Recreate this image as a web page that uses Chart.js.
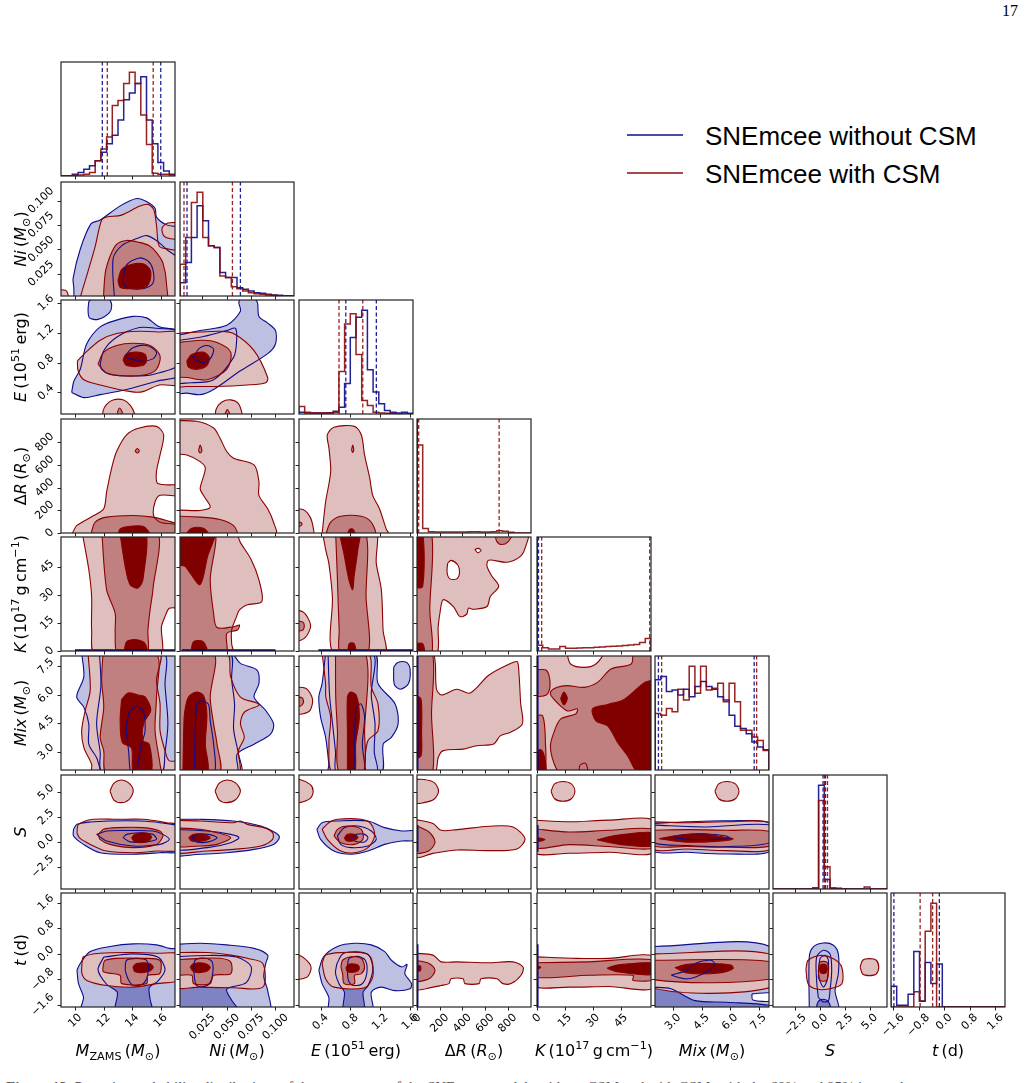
<!DOCTYPE html>
<html><head><meta charset="utf-8">
<script src="https://cdn.jsdelivr.net/npm/chart.js@4.4.1/dist/chart.umd.min.js"></script>
<style>
body{margin:0;background:#fff;width:1034px;height:1083px;overflow:hidden;position:relative;font-family:"DejaVu Sans",sans-serif;}
canvas{position:absolute;}
.xl{position:absolute;font-size:16px;white-space:nowrap;transform:translate(-50%,-50%);color:#000;}
.yl{position:absolute;font-size:16px;white-space:nowrap;transform:translate(-50%,-50%) rotate(-90deg);color:#000;}
sub,sup{font-size:70%;line-height:0;}
.leg{position:absolute;font-family:"Liberation Sans",Arial,sans-serif;font-size:26px;white-space:nowrap;}
.legline{position:absolute;height:0;width:56px;}
</style></head><body>
<div style="position:absolute;left:1002px;top:2px;font-family:'Liberation Serif',serif;font-size:16px;">17</div>
<div class="legline" style="left:627px;top:134px;border-top:2px solid #4a4aa8;"></div>
<div class="leg" style="left:705px;top:121px;">SNEmcee without CSM</div>
<div class="legline" style="left:627px;top:172px;border-top:2px solid #ad4646;"></div>
<div class="leg" style="left:705px;top:159px;">SNEmcee with CSM</div>
<div style="position:absolute;left:6px;top:1079px;font-family:'Liberation Serif',serif;font-size:15px;color:#555;white-space:nowrap;"><b>Figure 12.</b> Posterior probability distributions of the parameters of the SNEmcee models without CSM and with CSM, with the 68% and 95% intervals.</div>
<script>
// ---------- axes (parameters in order M, Ni, E, dR, K, Mix, S, t) ----------
const axisLo = [9.0, 0.002, 0.11, 0, 0, 2.05, -4.75, -1.66];
const axisHi = [17.0, 0.119, 1.64, 1005, 61, 8.05, 6.75, 1.9];
const ticksM = [10,12,14,16],            labelsM = ['10','12','14','16'];
const ticksNi = [0.025,0.05,0.075,0.1],  labelsNi = ['0.025','0.050','0.075','0.100'];
const ticksE = [0.4,0.8,1.2,1.6],        labelsE = ['0.4','0.8','1.2','1.6'];
const ticksDR = [0,200,400,600,800],     labelsDR = ['0','200','400','600','800'];
const ticksK = [0,15,30,45],             labelsK = ['0','15','30','45'];
const ticksMix = [3,4.5,6,7.5],          labelsMix = ['3.0','4.5','6.0','7.5'];
const ticksS = [-2.5,0,2.5,5],           labelsS = ['\u22122.5','0.0','2.5','5.0'];
const ticksT = [-1.6,-0.8,0,0.8,1.6],    labelsT = ['\u22121.6','\u22120.8','0.0','0.8','1.6'];

// ---------- 1D histograms (20 bins over the axis range) ----------
const hM_b  = [0,1,5,10,20,30,45,70,95,120,165,225,245,273,293,165,95,40,15,5];
const hM_r  = [1,1,2,3,5,10,45,80,115,208,223,273,306,273,180,93,8,5,5,3];
const hNi_b = [40,100,175,270,225,150,145,70,55,55,25,20,15,10,8,5,3,2,1,1];
const hNi_r = [95,175,280,310,175,150,145,60,55,28,22,15,10,7,5,3,2,1,1,0];
const hE_b  = [5,3,3,3,3,4,8,20,90,225,285,305,130,65,30,10,5,3,5,2];
const hE_r  = [22,5,3,3,3,3,5,125,265,295,175,40,25,5,3,2,2,1,0,0];
const hDR_r = [261,13,4,3,3,3,3,3,3,4,4,3,3,4,7,5,2,0,0,0];
const hK_r  = [17,10,6,6,13,8,8,9,10,10,11,12,13,14,15,16,18,19,25,37];
const hMix_b = [268,278,233,238,223,240,218,248,263,248,240,218,208,163,130,123,108,83,68,60];
const hMix_r = [168,163,183,173,240,208,308,228,308,238,243,258,203,258,203,118,118,98,88,58];
const hS_b  = [0,0,0,0,0,0,0,3,308,28,3,2,0,0,0,0,0,0,0,0];
const hS_r  = [0,0,0,0,0,0,0,3,263,66,2,0,0,0,0,0,6,0,0,0];
const hT_b  = [62,5,5,38,165,18,132,70,128,0,0,0,0,0,0,0,0,0,0,0];
const hT_r  = [0,0,0,0,45,17,225,308,0,0,0,0,0,0,0,0,0,0,0,0];
const histTop = [null,null,null,338,338,null,null,null];
const spikeBlue = [null,null,null,0,0,null,null,null];   // no-CSM run: delta at zero

// quantile lines
const qM_b = [11.9,16.0],     qM_r = [12.25,15.47];
const qNi_b = [0.0092,0.064], qNi_r = [0.0061,0.0558];
const qE_b = [0.738,1.148],   qE_r = [0.647,0.966];
const qDR_b = [1.5],          qDR_r = [15,724];
const qK_b = [0.8],           qK_r = [2.5,60.3];
const qMix_b = [2.23,7.27],   qMix_r = [2.4,7.4];
const qS_b = [0.3,0.55],      qS_r = [0.45,0.75];
const qT_b = [-1.57,-0.15],   qT_r = [-0.75,-0.36];

// ---------- 2D contours: [set, level, x1,y1, x2,y2, ...] ----------
// b = blue (without CSM) filled, B = blue contour line, r = red (with CSM), w/W = empty region, z = blue delta line
const c_Ni_M = [
 ['b',1, 9.9,-0.01, 9.9,0.01, 9.85,0.02, 10.35,0.05, 11.1,0.076, 11.75,0.08, 13.1,0.094, 14.3,0.102, 15.0,0.099, 15.6,0.092, 15.7,0.083, 16.4,0.075, 17.5,0.07, 17.5,-0.01],
 ['B',2, 12.8,-0.01, 12.65,0.04, 13.25,0.0535, 14.5,0.062, 15.0,0.064, 15.7,0.059, 16.4,0.05, 17.5,0.036, 17.5,-0.01],
 ['B',3, 13.35,0.018, 13.6,0.034, 14.5,0.041, 15.1,0.038, 15.45,0.029, 15.45,0.015, 14.75,0.0095, 13.6,0.011],
 ['r',1, 10.3,-0.01, 10.35,0.0, 10.85,0.025, 11.4,0.053, 11.85,0.08, 12.2,0.083, 13.25,0.085, 14.5,0.094, 15.1,0.096, 15.5,0.091, 15.7,0.075, 15.9,0.053, 16.6,0.05, 17.5,0.046, 17.5,-0.01],
 ['r',1, 17.5,0.077, 16.5,0.077, 16.1,0.072, 16.2,0.064, 16.6,0.061, 17.5,0.061],
 ['r',1, 8.5,0.008, 9.3,0.008, 9.5,0.003, 9.5,-0.01, 8.5,-0.01],
 ['r',2, 11.95,-0.01, 12.1,0.025, 12.45,0.043, 12.9,0.055, 13.6,0.059, 14.5,0.057, 15.2,0.0535, 15.7,0.0465, 16.15,0.036, 16.4,0.015, 16.3,-0.01],
 ['r',3, 13.0,0.018, 13.25,0.029, 13.85,0.034, 14.75,0.035, 15.25,0.029, 15.25,0.018, 14.9,0.011, 13.85,0.0095, 13.15,0.011]
];
const c_E_M = [
 ['b',1, 9.75,0.4, 9.9,0.55, 10.35,0.71, 10.8,1.05, 11.75,1.28, 12.9,1.37, 14.05,1.42, 15.0,1.4, 15.9,1.28, 17.5,1.2, 17.5,0.65, 15.7,0.55, 13.6,0.44, 11.75,0.37, 10.6,0.33],
 ['b',1, 10.95,1.62, 11.4,1.68, 12.3,1.67, 12.55,1.58, 12.4,1.47, 11.6,1.38, 11.0,1.4, 10.9,1.5],
 ['B',2, 11.75,0.78, 12.0,0.96, 12.9,1.14, 14.5,1.27, 15.7,1.26, 17.5,1.2, 17.5,0.8, 15.45,0.64, 14.05,0.62, 12.45,0.64, 11.85,0.71],
 ['B',3, 13.45,0.88, 14.05,1.0, 15.0,1.03, 15.7,0.94, 15.45,0.85, 14.5,0.82],
 ['r',1, 10.15,0.82, 10.7,0.93, 11.75,1.1, 12.9,1.19, 14.5,1.22, 15.9,1.21, 17.5,1.19, 17.5,0.52, 15.9,0.5, 14.75,0.41, 13.9,0.41, 11.75,0.5, 10.6,0.57, 10.2,0.69],
 ['r',1, 11.9,0.0, 11.95,0.15, 12.2,0.24, 12.7,0.3, 13.35,0.3, 13.85,0.23, 14.15,0.12, 14.2,0.0],
 ['r',2, 12.95,0.13, 13.1,0.19, 13.3,0.13, 13.1,0.07],
 ['r',2, 11.6,0.78, 12.0,0.94, 12.9,1.03, 14.05,1.06, 15.25,1.03, 15.95,0.89, 15.7,0.71, 15.0,0.64, 13.6,0.62, 12.2,0.66],
 ['r',3, 13.35,0.84, 13.6,0.92, 14.3,0.94, 14.9,0.91, 15.0,0.82, 14.75,0.76, 13.6,0.76]
];
const c_E_Ni = [
 ['b',1, -0.01,1.14, 0.0227,1.23, 0.05,1.3, 0.064,1.49, 0.0625,1.62, 0.071,1.7, 0.081,1.62, 0.083,1.42, 0.092,1.33, 0.1,1.23, 0.1,1.05, 0.092,0.92, 0.064,0.69, 0.0365,0.44, 0.0227,0.37, 0.009,0.39, -0.01,0.4],
 ['B',2, -0.01,1.08, 0.0227,1.14, 0.05,1.23, 0.059,1.26, 0.06,1.07, 0.057,0.87, 0.0365,0.57, 0.013,0.53, -0.01,0.55],
 ['B',3, 0.0158,0.85, 0.021,0.98, 0.0296,1.03, 0.0365,0.98, 0.033,0.85, 0.026,0.8],
 ['r',1, -0.01,1.19, 0.0227,1.21, 0.0434,1.22, 0.057,1.19, 0.078,0.96, 0.092,0.6, 0.09,0.53, 0.071,0.5, 0.0365,0.48, 0.009,0.48, -0.01,0.49],
 ['r',1, 0.038,0.0, 0.039,0.17, 0.045,0.27, 0.054,0.3, 0.062,0.25, 0.066,0.1, 0.067,0.0],
 ['r',2, 0.048,0.1, 0.0505,0.17, 0.053,0.1, 0.0505,0.05],
 ['r',2, -0.01,1.05, 0.0227,1.1, 0.04,1.07, 0.054,0.94, 0.05,0.71, 0.0296,0.57, 0.009,0.6, -0.01,0.64],
 ['r',3, 0.009,0.82, 0.014,0.91, 0.026,0.94, 0.032,0.87, 0.0296,0.76, 0.0192,0.71, 0.0106,0.74]
];
const c_dR_M = [
 ['r',1, 9.7,-10, 9.8,0, 10.1,65, 11.3,154, 12.0,214, 12.2,362, 12.55,570, 12.9,718, 13.6,866, 14.5,926, 15.7,940, 16.2,866, 15.95,688, 15.7,540, 15.8,436, 17.5,415, 17.5,332, 15.95,332, 15.6,273, 15.5,154, 15.95,95, 17.5,65, 17.5,-10],
 ['r',2, 14.2,722, 14.35,745, 14.5,722, 14.35,705],
 ['r',2, 11.1,-10, 11.4,95, 12.2,140, 14.05,154, 15.45,140, 16.4,110, 17.5,60, 17.5,-10],
 ['r',3, 13.0,-10, 13.15,36, 13.85,59, 14.75,59, 15.1,21, 15.2,-10]
];
const c_dR_Ni = [
 ['r',1, -0.01,990, 0.019,985, 0.0365,926, 0.043,837, 0.05,718, 0.057,659, 0.078,600, 0.083,451, 0.083,332, 0.092,214, 0.098,95, 0.1,-10, -0.01,-10, -0.01,184, 0.0227,199, 0.033,228, 0.026,332, 0.0227,392, 0.028,570, 0.0227,629, 0.009,688, -0.01,718],
 ['r',2, 0.021,725, 0.0227,775, 0.0245,725, 0.0227,705],
 ['r',2, -0.01,150, 0.0227,140, 0.043,119, 0.057,65, 0.06,-10, -0.01,-10],
 ['r',3, 0.008,-10, 0.014,42, 0.026,42, 0.031,-10]
];
const c_dR_E = [
 ['r',1, 0.42,-10, 0.467,273, 0.535,540, 0.512,748, 0.49,866, 0.58,932, 0.855,940, 0.946,866, 0.99,688, 1.06,481, 1.1,332, 1.19,214, 1.28,36, 1.31,-10],
 ['r',1, 0.0,220, 0.17,205, 0.26,140, 0.3,50, 0.3,-10, 0.0,-10],
 ['r',2, 0.815,730, 0.83,775, 0.845,730, 0.83,710],
 ['r',2, 0.08,80, 0.13,95, 0.15,75, 0.12,60, 0.08,60],
 ['r',2, 0.47,-10, 0.535,95, 0.67,148, 0.945,148, 1.08,95, 1.125,-10],
 ['r',3, 0.76,-10, 0.785,30, 0.83,36, 0.86,-10]
];
const c_K_M = [
 ['r',1, 10.45,65, 10.95,43.6, 11.15,29, 11.15,11, 11.4,-2, 15.95,-2, 16.05,13, 16.3,18.4, 16.6,22.9, 17.5,23.8, 17.5,65],
 ['r',2, 11.85,65, 12.2,32.8, 12.8,20.2, 12.8,9.4, 13.0,-2, 15.0,-2, 15.1,11.2, 15.25,22, 15.45,32.8, 15.7,65],
 ['r',3, 13.1,65, 13.5,45.4, 13.85,35.5, 14.4,33.7, 14.75,38.2, 14.9,65],
 ['r',3, 13.4,-2, 13.6,4.9, 14.2,6.1, 14.9,4, 15.0,-2],
 ['z',0, 9.98,0.4, 17.5,0.4]
];
const c_K_Ni = [
 ['r',1, -0.01,65, 0.057,65, 0.064,58, 0.075,49, 0.083,38, 0.086,26.5, 0.071,24.7, 0.063,22, 0.06,18.4, 0.055,11.2, 0.055,4, 0.056,-2, -0.01,-2],
 ['r',2, -0.01,65, 0.0365,65, 0.033,38, 0.0365,20, 0.04,12.6, 0.057,13, 0.063,13.9, 0.061,11.2, 0.05,9.4, 0.0486,-2, -0.01,-2],
 ['r',3, -0.01,65, 0.037,65, 0.03,50, 0.0227,35.5, 0.012,42, 0.007,45.4, -0.01,47],
 ['r',3, 0.013,-2, 0.0158,4.9, 0.026,4.9, 0.03,-2],
 ['z',0, 0.004,0.4, 0.1,0.4]
];
const c_K_E = [
 ['r',1, 0.42,65, 0.467,54.4, 0.51,47, 0.558,29, 0.58,-2, 1.26,-2, 1.238,11.2, 1.215,32.8, 1.147,47, 1.125,65],
 ['r',1, 0.0,22, 0.16,21, 0.25,16, 0.26,12, 0.17,6.5, 0.0,5.5],
 ['r',2, 0.0,16.5, 0.16,15.5, 0.18,13, 0.15,11, 0.0,11],
 ['r',2, 0.6,65, 0.626,38, 0.649,11.2, 0.67,-2, 1.03,-2, 1.01,29, 0.99,65],
 ['r',3, 0.64,65, 0.71,52.6, 0.78,38, 0.83,32.8, 0.85,40, 0.9,54.4, 0.92,65],
 ['r',3, 0.76,-2, 0.785,4, 0.85,4, 0.87,-2],
 ['z',0, 0.37,0.4, 1.7,0.4]
];
const c_K_dR = [
 ['r',1, -20,63, 973,63, 958,56, 914,50.8, 795,47.5, 632,48.6, 617,45.4, 661,40, 720,34.6, 646,29.2, 617,23.8, 498,22.3, 454,22.9, 439,19.8, 380,18.4, 320,23.8, 231,27.4, 202,20.2, 187,13, 172,-2, -20,-2],
 ['w',1, 270,47, 300,48.5, 360,46, 375,42, 350,38.6, 290,38.6, 265,42],
 ['w',1, 510,54.4, 540,54.9, 565,53.8, 535,52.6],
 ['r',2, -20,63, 128,63, 113,22, 128,-2, -20,-2],
 ['r',2, 690,63, 700,59, 740,57, 800,58.3, 840,63],
 ['r',3, -20,63, 50,63, 50,34.6, -20,34.6],
 ['r',3, -20,4, 50,4, 60,-2, -20,-2]
];
const c_Mix_M = [
 ['b',1, 10.45,8.2, 10.6,6.95, 10.1,5.9, 10.6,5.36, 10.95,4.48, 10.95,3.41, 11.5,2.7, 12.0,1.9, 17.5,1.9, 17.5,8.2],
 ['B',2, 11.7,8.2, 11.8,6.5, 11.5,4.5, 11.75,3.0, 11.9,1.9, 16.0,1.9, 16.3,3.0, 16.5,4.5, 16.3,6.5, 16.2,8.2],
 ['B',3, 13.55,4.3, 13.85,5.18, 14.3,5.36, 14.75,5.18, 14.9,4.12, 14.65,3.41, 14.4,2.35, 14.3,1.9, 13.9,1.9, 13.75,3.0],
 ['r',1, 10.9,8.2, 11.05,6.24, 10.7,5.18, 10.45,4.12, 10.6,3.24, 11.15,2.35, 11.2,1.9, 17.5,1.9, 17.5,2.53, 16.6,2.53, 16.3,3.06, 15.95,4.12, 15.95,5.53, 15.7,6.77, 15.9,8.2],
 ['r',2, 11.95,8.2, 11.85,6.77, 12.0,5.36, 11.75,3.77, 12.0,3.06, 12.2,1.9, 15.95,1.9, 15.95,2.35, 15.6,4.12, 15.7,5.89, 15.65,8.2],
 ['r',3, 13.25,5.75, 13.15,4.65, 13.3,3.5, 13.95,3.2, 14.1,1.9, 15.3,1.9, 15.2,3.4, 14.75,3.6, 14.8,4.5, 15.3,5.2, 14.9,5.9, 14.4,6.0, 13.7,6.1]
];
const c_Mix_Ni = [
 ['b',1, -0.01,8.2, 0.054,8.2, 0.064,7.66, 0.081,7.31, 0.083,6.6, 0.078,5.89, 0.09,5.18, 0.098,4.48, 0.095,3.94, 0.078,3.41, 0.0606,2.88, 0.06,1.9, -0.01,1.9],
 ['B',2, -0.01,8.2, 0.053,8.2, 0.055,6.8, 0.058,5.5, 0.057,4.2, 0.062,2.9, 0.064,1.9, -0.01,1.9],
 ['B',3, 0.017,1.9, 0.0175,4.0, 0.019,5.36, 0.0227,5.68, 0.031,5.53, 0.033,4.65, 0.0365,3.41, 0.037,1.9],
 ['r',1, -0.01,8.2, 0.05,8.2, 0.054,6.95, 0.064,5.89, 0.081,5.57, 0.083,5.45, 0.068,5.09, 0.064,4.48, 0.068,3.77, 0.062,3.06, 0.062,1.9, -0.01,1.9],
 ['r',2, -0.01,8.2, 0.0365,8.2, 0.033,5.89, 0.0365,4.48, 0.04,3.41, 0.042,1.9, -0.01,1.9],
 ['r',3, 0.005,1.9, 0.006,4.5, 0.007,5.18, 0.0107,5.89, 0.019,6.15, 0.026,5.98, 0.0296,5.0, 0.028,3.41, 0.03,1.9]
];
const c_Mix_E = [
 ['b',1, 0.467,8.2, 0.42,6.6, 0.376,5.89, 0.4,4.83, 0.467,3.77, 0.51,2.35, 0.51,1.9, 1.21,1.9, 1.24,3.41, 1.35,3.77, 1.44,4.48, 1.4,5.53, 1.17,6.6, 1.125,8.2],
 ['b',1, 1.38,7.45, 1.43,7.7, 1.55,7.72, 1.6,7.4, 1.58,6.6, 1.47,6.3, 1.39,6.55],
 ['B',2, 0.5,8.2, 0.52,6.0, 0.56,4.5, 0.6,3.0, 0.62,1.9, 1.15,1.9, 1.12,3.0, 1.13,4.5, 1.08,6.0, 1.1,8.2],
 ['B',3, 0.86,1.9, 0.87,5.18, 0.94,5.53, 0.99,4.83, 0.96,3.41, 0.99,1.9],
 ['r',1, 0.42,8.2, 0.467,6.6, 0.47,5.9, 0.535,4.83, 0.512,3.41, 0.558,1.9, 1.0,1.9, 0.99,2.35, 1.035,3.59, 1.17,4.12, 1.17,5.53, 1.08,6.42, 1.035,8.2],
 ['r',1, 0.0,6.4, 0.2,6.35, 0.29,5.8, 0.26,5.2, 0.15,5.0, 0.0,5.05],
 ['r',2, 0.0,5.9, 0.15,5.85, 0.17,5.6, 0.12,5.4, 0.0,5.4],
 ['r',2, 0.6,8.2, 0.603,5.89, 0.626,4.12, 0.65,1.9, 0.97,1.9, 0.99,4.12, 1.0,8.2],
 ['r',3, 0.76,1.9, 0.76,4.0, 0.76,5.89, 0.8,6.15, 0.88,5.98, 0.92,4.83, 0.87,3.41, 0.86,1.9]
];
const c_Mix_dR = [
 ['r',1, -20,8.2, 142,8.2, 172,6.3, 217,6.0, 350,6.3, 469,6.1, 632,7.04, 825,7.66, 884,7.75, 899,7.13, 914,5.54, 929,4.48, 825,4.04, 736,3.86, 676,3.42, 528,3.33, 409,3.15, 231,3.07, 187,2.71, 157,1.9, -20,1.9],
 ['r',2, -20,8.2, 135,8.2, 128,5.0, 135,1.9, -20,1.9],
 ['r',3, -20,6.0, 35,5.8, 40,4.0, 35,2.8, -20,2.7],
 ['z',0, 4,1.9, 4,8.2]
];
const c_Mix_K = [
 ['r',1, -2,1.9, -2,8.2, 63,8.2, 63,1.9],
 ['w',1, 16,8.2, 18,7.63, 25.2,7.45, 31.5,7.63, 35.1,8.2],
 ['w',1, 22.5,1.9, 23,2.3, 26,2.4, 27,1.9],
 ['r',2, 51.3,8.2, 50.4,7.63, 39.6,7.37, 32.4,6.66, 25.2,6.4, 16.2,6.49, 10.8,6.4, 7.2,6.14, 9,5.78, 16.2,5.16, 21.6,5.27, 20.7,5.0, 12.6,4.73, 9,4.02, 7.2,3.31, 9,2.43, 12.6,1.9, 63,1.9, 63,8.2],
 ['r',2, -2,7.3, 5,7.3, 7,6.5, 5,6.0, -2,6.0],
 ['r',2, -2,4.9, 3,4.9, 4.5,3.5, 4,1.9, -2,1.9],
 ['r',3, 63,6.8, 57.6,6.66, 46.8,5.78, 37.8,5.5, 29.7,5.27, 31.5,4.64, 37.8,4.37, 43.2,3.49, 48.6,2.78, 54,1.9, 63,1.9],
 ['r',3, 12.6,5.81, 14.4,6.15, 16.2,5.81, 14.4,5.47],
 ['r',3, -2,3.1, 2.5,3.1, 4.5,2.5, 4.5,1.9, -2,1.9],
 ['z',0, 0.3,1.9, 0.3,8.2]
];
const c_S_M = [
 ['b',1, 9.88,1.27, 10.12,1.77, 11.05,2.01, 12.44,2.11, 14.53,2.11, 15.93,1.94, 17.5,1.4, 17.5,-0.9, 15.93,-1.09, 14.07,-1.25, 11.74,-1.09, 10.58,-0.25, 9.88,0.6],
 ['B',2, 11.5,0.76, 12.2,1.1, 13.6,1.15, 15.45,1.1, 16.15,0.76, 16.6,0.26, 15.95,-0.25, 14.05,-0.41, 12.2,0.09],
 ['B',3, 13.35,0.43, 13.6,0.76, 14.5,0.93, 15.45,0.76, 15.7,0.26, 14.9,0.0, 13.85,0.0],
 ['r',1, 10.12,0.93, 10.23,1.77, 11.28,2.28, 12.9,2.28, 14.77,2.28, 16.4,1.94, 17.5,1.6, 17.5,-0.75, 15.7,-0.92, 14.07,-1.09, 12.2,-0.92, 11.05,-0.25, 10.3,0.4],
 ['r',1, 12.44,5.14, 12.7,5.9, 13.2,6.25, 13.75,5.95, 14.07,5.14, 13.75,4.25, 13.2,3.96, 12.7,4.25],
 ['r',2, 11.63,0.76, 11.98,1.27, 12.9,1.44, 14.77,1.44, 15.93,1.1, 16.16,0.6, 15.7,-0.25, 14.07,-0.58, 12.44,-0.25, 11.74,0.26],
 ['r',3, 13.95,0.43, 14.19,0.76, 14.77,0.93, 15.23,0.76, 15.35,0.43, 15.0,0.0, 14.19,0.0]
];
const c_S_Ni = [
 ['b',1, -0.01,2.28, 0.0227,2.28, 0.057,2.11, 0.085,1.6, 0.1,0.93, 0.104,0.43, 0.098,-0.25, 0.078,-0.75, 0.05,-1.09, 0.0227,-1.25, -0.01,-1.2],
 ['B',2, -0.01,1.27, 0.03,1.1, 0.054,0.76, 0.0625,0.43, 0.054,-0.08, 0.03,-0.58, -0.01,-0.7],
 ['B',3, 0.014,0.43, 0.019,0.76, 0.031,0.76, 0.04,0.43, 0.031,0.0, 0.019,0.0],
 ['r',1, -0.01,2.2, 0.0227,2.11, 0.057,1.94, 0.064,2.11, 0.071,1.77, 0.088,1.44, 0.097,0.93, 0.097,0.26, 0.085,-0.41, 0.057,-0.75, 0.03,-0.92, -0.01,-0.92],
 ['r',1, 0.038,5.14, 0.042,5.9, 0.05,6.25, 0.059,5.95, 0.064,5.14, 0.059,4.25, 0.05,3.96, 0.042,4.25],
 ['r',2, -0.01,1.44, 0.0227,1.27, 0.04,0.93, 0.054,0.43, 0.04,-0.25, 0.0227,-0.41, -0.01,-0.35],
 ['r',3, 0.011,0.43, 0.0158,0.76, 0.026,0.76, 0.033,0.43, 0.026,0.09, 0.014,0.09]
];
const c_S_E = [
 ['b',1, 0.35,1.27, 0.42,1.94, 0.626,2.11, 1.035,2.11, 1.26,1.44, 1.49,1.1, 1.7,1.1, 1.7,0.2, 1.49,0.09, 1.26,-0.25, 1.035,-0.92, 0.81,-1.25, 0.58,-0.92, 0.4,0.26],
 ['B',2, 0.626,0.6, 0.717,1.44, 0.9,1.6, 1.08,1.1, 1.147,0.26, 1.035,-0.41, 0.81,-0.58, 0.67,-0.25],
 ['B',3, 0.83,0.43, 0.877,0.76, 0.99,0.76, 1.035,0.43, 0.99,0.0, 0.855,0.09],
 ['r',1, 0.42,1.27, 0.51,1.94, 0.626,2.28, 0.946,2.28, 1.08,1.77, 1.125,0.6, 1.035,-0.58, 0.855,-1.09, 0.67,-0.92, 0.49,0.26],
 ['r',1, 0.0,6.3, 0.12,6.3, 0.26,5.8, 0.3,5.14, 0.26,4.4, 0.12,3.96, 0.0,3.96],
 ['r',2, 0.58,0.6, 0.626,1.27, 0.76,1.6, 0.946,1.27, 0.968,0.26, 0.855,-0.25, 0.67,-0.08],
 ['r',3, 0.72,0.43, 0.76,0.76, 0.855,0.76, 0.9,0.43, 0.83,0.09, 0.74,0.15]
];
const c_S_dR = [
 ['r',1, -20,2.27, 141,1.86, 212,1.17, 353,1.24, 635,1.58, 846,1.51, 952,0.32, 882,-0.71, 635,-0.88, 353,-0.81, 141,-1.16, -20,-1.5],
 ['r',1, -20,6.3, 60,6.3, 150,6.0, 190,5.14, 150,4.3, 60,3.96, -20,3.96],
 ['r',2, -20,1.7, 106,1.0, 159,0.0, 106,-0.88, -20,-1.05],
 ['z',0, 4,-1.0, 4,1.7]
];
const c_S_K = [
 ['r',1, -2,2.2, 17.1,2.03, 38.5,2.2, 63,2.13, 63,-1.05, 38.5,-1.05, 17.1,-1.15, -2,-1.05],
 ['r',1, 7.5,5.1, 9.4,5.85, 13.9,6.1, 18.4,5.85, 20.3,5.1, 18.4,4.35, 13.9,4.1, 9.4,4.35],
 ['r',2, -2,1.34, 17.1,1.0, 38.5,1.17, 63,1.24, 63,-0.6, 38.5,-0.47, 17.1,-0.27, -2,-0.6],
 ['r',3, 32.1,0.21, 42.8,0.66, 63,0.9, 63,-0.37, 44.9,-0.27],
 ['r',3, -2,0.5, 4.3,0.25, -2,0.0],
 ['z',0, 0.3,-1.0, 0.3,1.7]
];
const c_S_Mix = [
 ['b',1, 1.9,1.86, 3.73,2.03, 5.84,2.13, 8.2,1.8, 8.2,-0.88, 5.84,-1.22, 3.73,-1.05, 1.9,-0.88],
 ['B',2, 1.9,1.7, 4.79,1.51, 8.2,1.68, 8.2,0.0, 5.84,-0.47, 3.73,-0.37, 1.9,0.0],
 ['B',3, 2.9,0.5, 3.6,0.75, 4.8,0.8, 5.8,0.6, 6.0,0.35, 4.8,0.25, 3.6,0.3],
 ['r',1, 1.9,2.03, 3.73,1.93, 5.84,2.03, 8.2,1.86, 8.2,-0.71, 5.84,-0.88, 3.73,-0.71, 1.9,-0.71],
 ['r',1, 5.2,5.1, 5.4,5.85, 5.84,6.1, 6.28,5.85, 6.47,5.1, 6.28,4.35, 5.84,4.1, 5.4,4.35],
 ['r',2, 1.9,1.17, 3.73,1.24, 5.84,1.17, 8.2,1.0, 8.2,-0.37, 5.84,-0.54, 3.73,-0.47, 1.9,-0.37],
 ['r',3, 2.26,0.32, 3.31,0.66, 4.58,0.83, 5.63,0.49, 6.16,0.32, 5.42,0.08, 3.73,-0.03]
];
const c_t_M = [
 ['b',1, 10.12,-0.51, 10.35,-0.3, 11.05,0.07, 12.44,0.23, 14.07,0.31, 15.7,0.28, 16.63,0.17, 17.5,0.1, 17.5,-1.8, 10.45,-1.8, 10.58,-1.36, 10.23,-0.93],
 ['b',2, 12.0,-0.1, 14,0.0, 15.8,-0.1, 16.3,-0.5, 15.8,-0.85, 15.2,-1.05, 15.25,-1.41, 15.35,-1.8, 12.85,-1.8, 12.95,-1.2, 12.2,-0.95, 11.6,-0.5],
 ['B',3, 13.5,-0.51, 13.6,-0.2, 14.3,-0.14, 15.0,-0.2, 15.1,-0.62, 14.77,-0.93, 14.07,-0.99, 13.7,-0.78],
 ['r',1, 10.47,-0.3, 10.58,-0.09, 11.74,0.02, 14.07,0.04, 15.7,0.02, 17.5,-0.03, 17.5,-0.78, 15.7,-0.93, 14.07,-1.04, 12.2,-0.99, 10.81,-0.83, 10.47,-0.62],
 ['r',2, 11.98,-0.3, 12.1,-0.2, 12.9,-0.14, 14.77,-0.14, 15.93,-0.2, 15.93,-0.62, 15.1,-0.67, 15.0,-0.93, 13.26,-0.93, 13.14,-0.67, 11.98,-0.56],
 ['r',3, 14.05,-0.41, 14.3,-0.3, 15.23,-0.3, 15.47,-0.43, 15.1,-0.56, 14.19,-0.56]
];
const c_t_Ni = [
 ['b',1, -0.01,0.28, 0.0227,0.33, 0.05,0.28, 0.078,0.17, 0.092,-0.04, 0.09,-0.3, 0.088,-0.72, 0.092,-1.15, 0.093,-1.8, -0.01,-1.8],
 ['b',2, -0.01,-0.1, 0.03,-0.05, 0.06,-0.1, 0.075,-0.4, 0.07,-0.9, 0.05,-1.1, 0.055,-1.45, 0.062,-1.8, -0.01,-1.8],
 ['B',3, 0.016,-0.51, 0.0175,-0.2, 0.028,-0.14, 0.035,-0.25, 0.035,-0.72, 0.03,-0.99, 0.019,-0.99],
 ['r',1, -0.01,0.04, 0.03,0.04, 0.054,-0.04, 0.071,-0.14, 0.087,-0.3, 0.087,-1.04, 0.057,-1.06, 0.0227,-1.04, -0.01,-1.02],
 ['r',2, -0.01,-0.2, 0.0227,-0.14, 0.043,-0.14, 0.054,-0.25, 0.054,-0.62, 0.0365,-0.67, 0.033,-0.93, 0.016,-0.93, 0.014,-0.67, -0.01,-0.65],
 ['r',3, 0.0124,-0.41, 0.016,-0.3, 0.028,-0.3, 0.033,-0.43, 0.028,-0.56, 0.016,-0.56]
];
const c_t_E = [
 ['b',1, 0.376,-0.51, 0.44,-0.09, 0.626,0.23, 0.855,0.33, 1.08,0.28, 1.26,0.07, 1.35,-0.2, 1.49,-0.41, 1.56,-0.33, 1.53,-0.62, 1.62,-0.93, 1.6,-1.09, 1.4,-1.15, 1.21,-1.04, 1.08,-1.2, 1.09,-1.8, 0.52,-1.8, 0.51,-1.36, 0.42,-0.93],
 ['b',2, 0.62,-0.3, 0.7,0.0, 0.9,0.06, 1.05,-0.05, 1.1,-0.5, 1.04,-0.98, 0.97,-1.2, 0.98,-1.8, 0.71,-1.8, 0.72,-1.2, 0.65,-0.95, 0.6,-0.6],
 ['B',3, 0.76,-0.5, 0.78,-0.15, 0.9,-0.08, 1.0,-0.2, 1.02,-0.6, 0.95,-0.95, 0.82,-0.97, 0.77,-0.8],
 ['r',1, 0.42,-0.3, 0.467,-0.04, 0.672,0.04, 0.99,0.02, 1.08,-0.14, 1.1,-0.72, 0.99,-1.06, 0.58,-1.04, 0.467,-0.78],
 ['r',1, 0.0,-0.05, 0.12,-0.05, 0.25,-0.3, 0.27,-0.5, 0.2,-0.75, 0.0,-0.75],
 ['r',2, 0.672,-0.41, 0.695,-0.2, 0.81,-0.09, 0.946,-0.14, 0.99,-0.41, 0.946,-0.62, 0.855,-0.67, 0.855,-0.93, 0.717,-0.93, 0.695,-0.62],
 ['r',3, 0.74,-0.43, 0.785,-0.32, 0.9,-0.35, 0.92,-0.46, 0.877,-0.56, 0.76,-0.56]
];
const c_t_dR = [
 ['r',1, -20,0.02, 141,-0.04, 212,-0.25, 353,-0.25, 635,-0.28, 846,-0.25, 935,-0.41, 917,-0.67, 829,-0.93, 758,-0.93, 705,-0.78, 564,-0.78, 547,-0.93, 423,-0.93, 406,-0.78, 300,-0.78, 282,-0.93, 212,-0.99, 141,-1.04, -20,-1.09],
 ['r',2, -20,-0.2, 106,-0.3, 159,-0.51, 106,-0.78, -20,-0.83],
 ['r',3, -20,-0.35, 30,-0.38, 30,-0.52, -20,-0.55],
 ['z',0, 4,-1.66, 4,0.3]
];
const c_t_K = [
 ['r',1, -2,-0.09, 21.4,-0.14, 38.5,-0.14, 63,-0.09, 63,-1.06, 38.5,-1.02, 17.1,-1.04, -2,-0.99],
 ['r',2, -2,-0.28, 27.8,-0.25, 63,-0.2, 63,-0.78, 51.4,-0.83, 51.4,-0.67, 27.8,-0.67, -2,-0.72],
 ['r',3, 37.5,-0.45, 42.8,-0.35, 63,-0.3, 63,-0.64, 42.8,-0.56],
 ['r',3, -2,-0.35, 2,-0.42, -2,-0.52],
 ['z',0, 0.3,-1.66, 0.3,0.3]
];
const c_t_Mix = [
 ['b',1, 1.9,0.23, 8.2,0.2, 8.2,-1.8, 1.9,-1.8],
 ['b',2, 1.9,-1.04, 2.89,-1.09, 4.16,-1.46, 5.84,-1.51, 8.2,-1.62, 8.2,-1.8, 1.9,-1.8],
 ['W',1, 7.15,-1.25, 8.2,-1.23, 8.2,-1.46, 7.2,-1.44],
 ['B',3, 2.9,-0.67, 3.73,-0.51, 4.16,-0.3, 5.0,-0.2, 5.2,-0.35, 4.58,-0.62, 3.73,-0.78],
 ['r',1, 1.9,0.0, 8.2,-0.02, 8.2,-1.04, 1.9,-1.06],
 ['r',2, 1.9,-0.2, 8.2,-0.25, 8.2,-0.78, 1.9,-0.8],
 ['r',3, 3.1,-0.43, 3.73,-0.33, 5.0,-0.3, 6.05,-0.35, 6.16,-0.46, 5.42,-0.6, 3.73,-0.6]
];
const c_t_S = [
 ['b',1, -1.09,-1.8, -1.09,-0.1, -0.68,0.22, 0.33,0.34, 1.34,0.27, 1.84,0.0, 1.84,-0.62, 1.51,-1.15, 1.84,-1.8],
 ['b',2, -0.45,-1.8, -0.2,-1.5, 0.3,-1.42, 0.85,-1.5, 1.05,-1.8],
 ['B',2, -0.18,-1.36, -0.35,-0.83, -0.35,-0.1, 0.33,0.11, 1.0,0.0, 1.17,-0.52, 1.0,-1.15, 0.84,-1.46, 0.3,-1.5],
 ['B',3, -0.18,-0.73, 0.0,-0.15, 0.5,-0.05, 0.84,-0.2, 0.74,-0.78, 0.33,-1.04],
 ['r',1, -1.43,-0.47, -1.2,-0.2, 0.0,-0.05, 1.34,-0.15, 2.18,-0.41, 2.18,-0.94, 0.84,-1.1, -0.35,-1.1, -1.2,-0.94],
 ['r',1, 4.04,-0.41, 4.3,-0.2, 4.98,-0.15, 5.66,-0.2, 5.92,-0.41, 5.66,-0.63, 4.98,-0.68, 4.3,-0.63],
 ['r',2, -0.18,-0.52, 0.0,-0.26, 0.67,-0.26, 0.84,-0.52, 0.67,-0.83, 0.0,-0.83],
 ['r',3, -0.07,-0.47, 0.05,-0.35, 0.33,-0.32, 0.61,-0.35, 0.73,-0.47, 0.61,-0.59, 0.33,-0.62, 0.05,-0.59]
];

// ---------- assembly ----------
const TICKS = [ticksM, ticksNi, ticksE, ticksDR, ticksK, ticksMix, ticksS, ticksT];
const LABELS = [labelsM, labelsNi, labelsE, labelsDR, labelsK, labelsMix, labelsS, labelsT];
const HB = [hM_b, hNi_b, hE_b, null, null, hMix_b, hS_b, hT_b];
const HR = [hM_r, hNi_r, hE_r, hDR_r, hK_r, hMix_r, hS_r, hT_r];
const QB = [qM_b, qNi_b, qE_b, qDR_b, qK_b, qMix_b, qS_b, qT_b];
const QR = [qM_r, qNi_r, qE_r, qDR_r, qK_r, qMix_r, qS_r, qT_r];
const CONT = {
 '1_0': c_Ni_M, '2_0': c_E_M, '2_1': c_E_Ni,
 '3_0': c_dR_M, '3_1': c_dR_Ni, '3_2': c_dR_E,
 '4_0': c_K_M, '4_1': c_K_Ni, '4_2': c_K_E, '4_3': c_K_dR,
 '5_0': c_Mix_M, '5_1': c_Mix_Ni, '5_2': c_Mix_E, '5_3': c_Mix_dR, '5_4': c_Mix_K,
 '6_0': c_S_M, '6_1': c_S_Ni, '6_2': c_S_E, '6_3': c_S_dR, '6_4': c_S_K, '6_5': c_S_Mix,
 '7_0': c_t_M, '7_1': c_t_Ni, '7_2': c_t_E, '7_3': c_t_dR, '7_4': c_t_K, '7_5': c_t_Mix, '7_6': c_t_S
};

const colX = [61,180,299,417,537,655,773,891];
const rowY = [62,182,300,419,537,656,775,893];
const SIZE = 114;

const BLUE_FILL = ['rgb(190,192,226)','rgb(127,131,196)','rgb(60,62,160)'];
const RED_FILL = ['rgb(223,190,190)','rgb(192,128,128)','rgb(128,0,0)'];
const BLUE_LINE = '#0c0c8e', RED_LINE = '#8b0000';
const BLUE_HIST = 'rgba(10,10,140,0.9)', RED_HIST = 'rgba(140,10,10,0.9)';

function pts(e, close) {
  const p = [];
  for (let i = 2; i < e.length; i += 2) p.push({x: e[i], y: e[i+1]});
  if (close) p.push({x: e[2], y: e[3]});
  return p;
}
function fillDS(e, color) {
  return {data: pts(e, true), fill: 'shape', backgroundColor: color, borderColor: 'rgba(0,0,0,0)', borderWidth: 0, tension: 0.3, pointRadius: 0};
}
function lineDS(e, color) {
  return {data: pts(e, true), fill: false, borderColor: color, borderWidth: 1.1, tension: 0.3, pointRadius: 0};
}
function contourDatasets(list) {
  const seq = [];
  list.filter(e => e[0] === 'b').sort((a, b) => a[1] - b[1]).forEach(e => seq.push(fillDS(e, BLUE_FILL[e[1]-1])));
  list.filter(e => e[0] === 'W').forEach(e => seq.push(fillDS(e, '#ffffff')));
  list.filter(e => e[0] === 'r' || e[0] === 'w').sort((a, b) => a[1] - b[1]).forEach(e => seq.push(fillDS(e, e[0] === 'w' ? '#ffffff' : RED_FILL[e[1]-1])));
  list.filter(e => 'bBW'.includes(e[0])).forEach(e => seq.push(lineDS(e, BLUE_LINE)));
  list.filter(e => e[0] === 'z').forEach(e => seq.push({data: pts(e, false), fill: false, borderColor: '#00008b', borderWidth: 2, pointRadius: 0}));
  list.filter(e => e[0] === 'r' || e[0] === 'w').forEach(e => seq.push(lineDS(e, RED_LINE)));
  return seq;
}
function histLine(h, lo, hi, color) {
  const n = h.length, w = (hi - lo) / n, p = [{x: lo, y: 0}];
  h.forEach((v, k) => { p.push({x: lo + k*w, y: v}); p.push({x: lo + (k+1)*w, y: v}); });
  p.push({x: hi, y: 0});
  return {data: p, fill: false, borderColor: color, borderWidth: 1.5, tension: 0, pointRadius: 0};
}
function vline(x, top, color, dash, width) {
  return {data: [{x: x, y: 0}, {x: x, y: top * 2}], fill: false, borderColor: color, borderWidth: width, borderDash: dash, tension: 0, pointRadius: 0};
}
function histDatasets(i) {
  const all = [].concat(HB[i] || [], HR[i] || []);
  const top = histTop[i] || 1.1 * Math.max.apply(null, all);
  const seq = [];
  if (HB[i]) seq.push(histLine(HB[i], axisLo[i], axisHi[i], BLUE_HIST));
  if (spikeBlue[i] !== null) seq.push(vline(spikeBlue[i], top * 3, BLUE_HIST, [], 2));
  seq.push(histLine(HR[i], axisLo[i], axisHi[i], RED_HIST));
  QB[i].forEach(q => seq.push(vline(q, top, 'rgba(20,20,150,0.95)', [4, 2.5], 1.3)));
  QR[i].forEach(q => seq.push(vline(q, top, 'rgba(150,20,20,0.95)', [4, 2.5], 1.3)));
  return {seq, top};
}

const framePlugin = {
  id: 'frame',
  afterDatasetsDraw(chart, args, o) {
    const {ctx, chartArea: a} = chart;
    const xs = chart.scales.x, ys = chart.scales.y;
    ctx.save();
    ctx.strokeStyle = '#222';
    ctx.lineWidth = 1.2;
    ctx.strokeRect(a.left, a.top, a.right - a.left, a.bottom - a.top);
    ctx.lineWidth = 1;
    ctx.beginPath();
    TICKS[o.xi].forEach(v => { const px = Math.round(xs.getPixelForValue(v)) + 0.5; ctx.moveTo(px, a.bottom); ctx.lineTo(px, a.bottom + 3.5); });
    if (!o.diag) TICKS[o.yi].forEach(v => { const py = Math.round(ys.getPixelForValue(v)) + 0.5; ctx.moveTo(a.left, py); ctx.lineTo(a.left - 3.5, py); });
    ctx.stroke();
    ctx.fillStyle = '#000';
    ctx.font = '11px "DejaVu Sans"';
    ctx.textAlign = 'center';
    ctx.textBaseline = 'middle';
    const k = Math.SQRT1_2, h = 8;
    if (o.showX) TICKS[o.xi].forEach((v, i) => {
      const t = LABELS[o.xi][i], w = ctx.measureText(t).width, d = (w + h) * k / 2;
      ctx.save(); ctx.translate(xs.getPixelForValue(v), a.bottom + 6 + d); ctx.rotate(-Math.PI / 4); ctx.fillText(t, 0, 0); ctx.restore();
    });
    if (o.showY) TICKS[o.yi].forEach((v, i) => {
      const t = LABELS[o.yi][i], w = ctx.measureText(t).width, d = (w + h) * k / 2;
      ctx.save(); ctx.translate(a.left - 6 - d, ys.getPixelForValue(v)); ctx.rotate(-Math.PI / 4); ctx.fillText(t, 0, 0); ctx.restore();
    });
    ctx.restore();
  }
};

function makePanel(r, c) {
  const PL = c === 0 ? 62 : 8, PB = r === 7 ? 48 : 8, PT = c === 0 ? 16 : 3, PR = r === 7 ? 22 : 3;
  const W = SIZE + PL + PR, H = SIZE + PT + PB;
  const cv = document.createElement('canvas');
  cv.width = W; cv.height = H;
  cv.style.left = (colX[c] - PL) + 'px'; cv.style.top = (rowY[r] - PT) + 'px';
  cv.style.width = W + 'px'; cv.style.height = H + 'px';
  document.body.appendChild(cv);
  const diag = r === c;
  let seq, ylo, yhi;
  if (diag) { const hd = histDatasets(c); seq = hd.seq; ylo = 0; yhi = hd.top; }
  else { seq = contourDatasets(CONT[r + '_' + c]); ylo = axisLo[r]; yhi = axisHi[r]; }
  new Chart(cv, {
    type: 'line',
    data: {datasets: seq.slice().reverse()},
    options: {
      responsive: false, animation: false, events: [],
      layout: {padding: {left: PL, right: PR, top: PT, bottom: PB}},
      scales: {
        x: {type: 'linear', display: false, min: axisLo[c], max: axisHi[c]},
        y: {type: 'linear', display: false, min: ylo, max: yhi}
      },
      elements: {point: {radius: 0}, line: {capBezierPoints: false}},
      plugins: {legend: {display: false}, tooltip: {enabled: false},
        frame: {xi: c, yi: r, diag: diag, showX: r === 7, showY: c === 0 && r > 0}}
    },
    plugins: [framePlugin]
  });
}
for (let r = 0; r < 8; r++) for (let c = 0; c <= r; c++) makePanel(r, c);

// axis titles
const xTitles = ['<i>M</i><sub>ZAMS</sub>\u2009(<i>M</i><sub>\u2299</sub>)', '<i>Ni</i>\u2009(<i>M</i><sub>\u2299</sub>)', '<i>E</i>\u2009(10<sup>51</sup>\u2009erg)', '\u0394<i>R</i>\u2009(<i>R</i><sub>\u2299</sub>)', '<i>K</i>\u2009(10<sup>17</sup>\u2009g\u2009cm<sup>\u22121</sup>)', '<i>Mix</i>\u2009(<i>M</i><sub>\u2299</sub>)', '<i>S</i>', '<i>t</i>\u2009(d)'];
xTitles.forEach((t, i) => {
  const d = document.createElement('div'); d.className = 'xl'; d.innerHTML = t;
  d.style.left = (colX[i] + SIZE / 2) + 'px'; d.style.top = '1050px'; document.body.appendChild(d);
  if (i > 0) {
    const y = document.createElement('div'); y.className = 'yl'; y.innerHTML = t;
    y.style.left = '20px'; y.style.top = (rowY[i] + SIZE / 2) + 'px'; document.body.appendChild(y);
  }
});
</script>
</body></html>
